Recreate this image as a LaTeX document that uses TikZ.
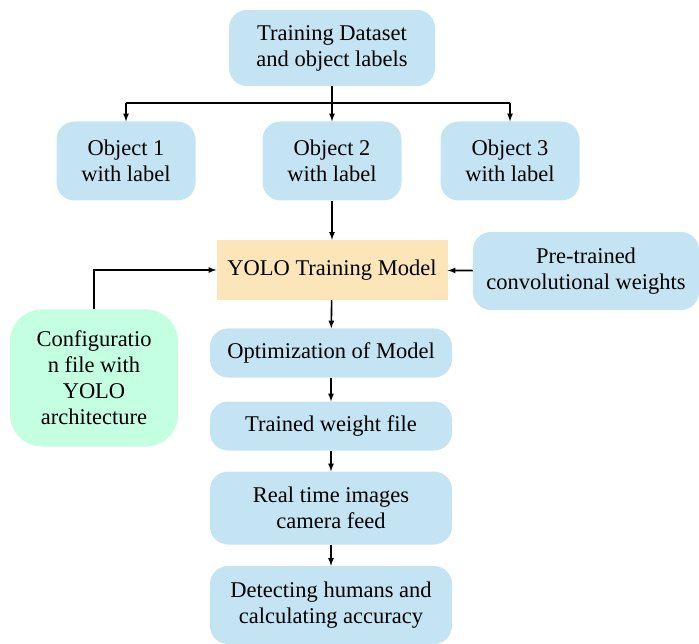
\documentclass[tikz,border=0pt]{standalone}
\usepackage{fontspec}
\setmainfont{Liberation Serif}
\usetikzlibrary{positioning}

\definecolor{boxblue}{RGB}{197,228,243}
\definecolor{boxorange}{RGB}{252,229,184}
\definecolor{boxgreen}{RGB}{196,255,226}

\begin{document}
\begin{tikzpicture}[x=1pt,y=-1pt,
    stage/.style={fill=boxblue,rounded corners=18pt,align=center,inner sep=0pt,
      font=\fontsize{22.5}{26}\selectfont},
    flow/.style={line width=1.6pt,-latex}]
    \useasboundingbox (0,0) rectangle (699,644);
    % top of the tree
    \node[stage,minimum width=206pt,minimum height=76pt] (data) at (332,48) {Training Dataset\\and object labels};
    \node[stage,minimum width=139pt,minimum height=79pt] (obja) at (126,161) {Object 1\\with label};
    \node[stage,minimum width=139pt,minimum height=79pt] (objb) at (332,161) {Object 2\\with label};
    \node[stage,minimum width=139pt,minimum height=79pt] (objc) at (510,161) {Object 3\\with label};
    \coordinate (split) at (332,103);
    % model and its inputs
    \node[stage,fill=boxorange,rounded corners=0pt,minimum width=231pt,minimum height=60pt] (yolo) at (332,270) {YOLO Training Model};
    \node[stage,minimum width=226pt,minimum height=78pt] (pre) at (586,271) {Pre-trained\\convolutional weights};
    \node[stage,fill=boxgreen,rounded corners=32pt,minimum width=168pt,minimum height=137pt] (conf) at (94,378) {Configuratio\\n file with\\YOLO\\architecture};
    % steps below the model
    \node[stage,minimum width=242pt,minimum height=49pt] (opt) at (331,353) {Optimization of Model};
    \node[stage,minimum width=242pt,minimum height=49pt] (wts) at (331,426) {Trained weight file};
    \node[stage,minimum width=242pt,minimum height=73pt] (feed) at (331,508) {Real time images\\camera feed};
    \node[stage,minimum width=242pt,minimum height=78pt] (det) at (331,605) {Detecting humans and\\calculating accuracy};

    \draw[line width=1.6pt] (data) -- (split);
    \draw[line width=1.6pt] (split -| obja) -- (split -| objc);
    \draw[flow] (split -| obja) -- (obja);
    \draw[flow] (split) -- (objb);
    \draw[flow] (split -| objc) -- (objc);
    \draw[flow] (objb) -- (yolo);
    \draw[flow] (pre) -- (yolo);
    \draw[flow] (conf.north) |- (yolo.west);
    \draw[flow] (yolo) -- (opt);
    \draw[flow] (opt) -- (wts);
    \draw[flow] (wts) -- (feed);
    \draw[flow] (feed) -- (det);
\end{tikzpicture}
\end{document}
